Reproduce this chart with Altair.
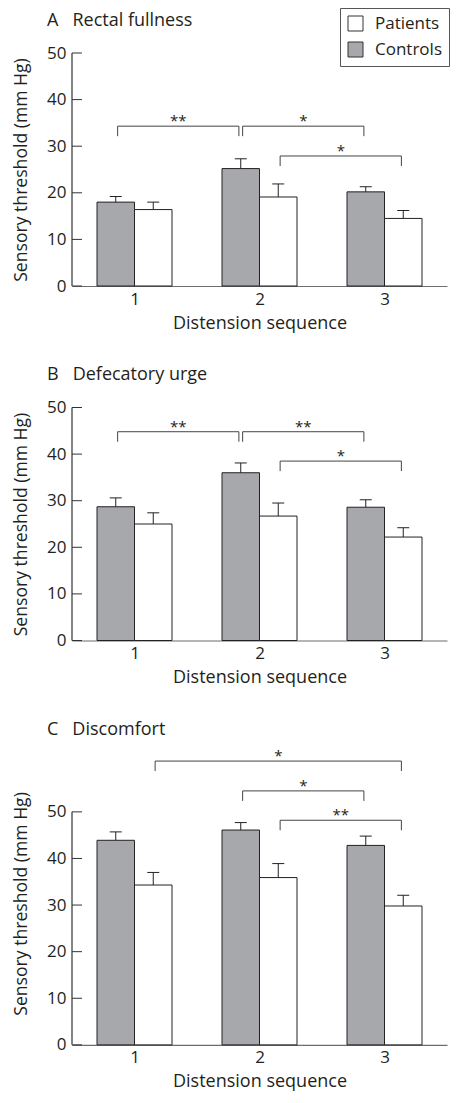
import altair as alt
import pandas as pd

# ---------------- data ----------------
sequence = [1, 2, 3]
groups = ["Controls", "Patients"]
y_ticks = [0, 10, 20, 30, 40, 50]

# Panel A: rectal fullness (mean, SEM)
a_controls = [18.0, 25.2, 20.2]
a_controls_sem = [1.2, 2.1, 1.1]
a_patients = [16.4, 19.1, 14.5]
a_patients_sem = [1.6, 2.8, 1.7]

# Panel B: defecatory urge
b_controls = [28.7, 36.0, 28.6]
b_controls_sem = [1.9, 2.1, 1.6]
b_patients = [25.0, 26.7, 22.2]
b_patients_sem = [2.4, 2.8, 2.0]

# Panel C: discomfort
c_controls = [43.9, 46.1, 42.8]
c_controls_sem = [1.8, 1.6, 2.0]
c_patients = [34.3, 35.9, 29.8]
c_patients_sem = [2.7, 3.0, 2.3]

# significance brackets: (from seq, from group) -> (to seq, to group), level, label
a_br_from_seq = [1, 2, 2]
a_br_from_grp = ["Controls", "Controls", "Patients"]
a_br_to_seq = [2, 3, 3]
a_br_to_grp = ["Controls", "Controls", "Patients"]
a_br_level = [34.3, 34.3, 27.9]
a_br_label = ["**", "*", "*"]

b_br_from_seq = [1, 2, 2]
b_br_from_grp = ["Controls", "Controls", "Patients"]
b_br_to_seq = [2, 3, 3]
b_br_to_grp = ["Controls", "Controls", "Patients"]
b_br_level = [44.8, 44.8, 38.5]
b_br_label = ["**", "**", "*"]

c_br_from_seq = [1, 2, 2]
c_br_from_grp = ["Patients", "Controls", "Patients"]
c_br_to_seq = [3, 3, 3]
c_br_to_grp = ["Patients", "Controls", "Patients"]
c_br_level = [60.9, 54.5, 48.2]
c_br_label = ["*", "*", "**"]

# ---------------- styling ----------------
FONT = "Open Sans"
TXT = "#231f20"
CTRL_FILL = "#a7a8ab"
BAR_W = 0.3       # bar width in sequence units
GAP = 0.015       # bracket end inset
PX_PER_UNIT = 233 / 50
SPACING = 121.5
PLOT_W = 375


def offset(g):
    return -BAR_W / 2 if g == "Controls" else BAR_W / 2


X_AXIS = alt.Axis(values=sequence, format="d", title="Distension sequence",
                  ticks=False, grid=False,
                  domainColor="#6d6d6d", domainWidth=1.2,
                  labelFont=FONT, labelFontSize=17, labelColor=TXT,
                  labelPadding=5, titleFont=FONT, titleFontSize=18,
                  titleFontWeight="normal", titleColor=TXT, titlePadding=7)
Y_AXIS = alt.Axis(values=y_ticks, title="Sensory threshold (mm Hg)",
                  domain=False, ticks=False, grid=False,
                  labelFont=FONT, labelFontSize=17, labelColor=TXT,
                  labelPadding=6, titleFont=FONT, titleFontSize=17.6,
                  titleFontWeight="normal", titleColor=TXT, titlePadding=16)


def panel(title, ctrl, ctrl_sem, pat, pat_sem, br, ymax, show_legend):
    rows = []
    for grp, vals, sems in (("Controls", ctrl, ctrl_sem), ("Patients", pat, pat_sem)):
        for s, v, e in zip(sequence, vals, sems):
            left = s - BAR_W if grp == "Controls" else s
            rows.append(dict(seq=s, group=grp, value=v, upper=v + e, zero=0.0,
                             left=left, right=left + BAR_W, center=left + BAR_W / 2))
    df = pd.DataFrame(rows)

    fs, fg, ts, tg, lv, lb = br
    brows = []
    for a, b, c, d, l, t in zip(fs, fg, ts, tg, lv, lb):
        x1 = a + offset(b) + GAP
        x2 = c + offset(d) - GAP
        brows.append(dict(x1=x1, x2=x2, mid=(x1 + x2) / 2, level=l, label=t))
    bdf = pd.DataFrame(brows)
    legs = pd.concat([bdf[["x1", "level"]].rename(columns={"x1": "xe"}),
                      bdf[["x2", "level"]].rename(columns={"x2": "xe"})])

    xscale = alt.Scale(domain=[0.5, 3.5], nice=False, zero=False)
    yscale = alt.Scale(domain=[0, ymax], nice=False, zero=True)

    def X(f):
        return alt.X(f, scale=xscale, axis=X_AXIS)

    def Y(f):
        return alt.Y(f, scale=yscale, axis=Y_AXIS)

    if show_legend:
        legend = alt.Legend(orient="none", legendX=268, legendY=-45, title=None,
                            symbolType="square", symbolSize=225,
                            symbolStrokeColor="#333", symbolStrokeWidth=1,
                            labelFont=FONT, labelFontSize=17, labelColor=TXT,
                            labelOffset=11, rowPadding=7, padding=7,
                            strokeColor="#555", fillColor="white")
    else:
        legend = None

    bars = alt.Chart(df).mark_rect(stroke="#222", strokeWidth=1).encode(
        x=X("left:Q"), x2="right:Q", y=Y("value:Q"), y2="zero:Q",
        fill=alt.Fill("group:N",
                      scale=alt.Scale(domain=["Patients", "Controls"], range=["white", CTRL_FILL]),
                      legend=legend),
    )

    err = alt.Chart(df).mark_rule(color="#222", strokeWidth=1).encode(
        x=X("center:Q"), y=Y("value:Q"), y2="upper:Q")
    caps = alt.Chart(df).mark_rule(color="#222", strokeWidth=1, xOffset=-6, x2Offset=6).encode(
        x=X("center:Q"), x2="center:Q", y=Y("upper:Q"))

    top = alt.Chart(bdf).mark_rule(color="#444", strokeWidth=1).encode(
        x=X("x1:Q"), x2="x2:Q", y=Y("level:Q"))
    leg = alt.Chart(legs).mark_rule(color="#444", strokeWidth=1, y2Offset=10).encode(
        x=X("xe:Q"), y=Y("level:Q"), y2="level:Q")
    stars = alt.Chart(bdf).mark_text(font=FONT, fontSize=15, color=TXT, baseline="alphabetic").encode(
        x=X("mid:Q"), y=Y("level:Q"), text="label:N")

    yline = alt.Chart(pd.DataFrame({"lo": [y_ticks[0]], "hi": [y_ticks[-1]]})).mark_rule(
        color="#333", strokeWidth=1.2).encode(
        x=alt.value(0), y=Y("lo:Q"), y2="hi:Q")
    yticks = alt.Chart(pd.DataFrame({"t": y_ticks})).mark_rule(color="#333", strokeWidth=1).encode(
        x=alt.value(0), x2=alt.value(10), y=Y("t:Q"))

    ttl = alt.Chart(pd.DataFrame({"t": [title]})).mark_text(
        font=FONT, fontSize=18, color=TXT, align="left", baseline="alphabetic").encode(
        x=alt.value(-25), y=alt.value(-27.5), text="t:N")

    height = PX_PER_UNIT * ymax
    return alt.layer(bars, err, caps, top, leg, stars, yline, yticks, ttl).properties(
        width=PLOT_W, height=height)


pa = panel("A\u00a0\u00a0\u00a0Rectal fullness", a_controls, a_controls_sem, a_patients, a_patients_sem,
           (a_br_from_seq, a_br_from_grp, a_br_to_seq, a_br_to_grp, a_br_level, a_br_label), 50, True)
pb = panel("B\u00a0\u00a0\u00a0Defecatory urge", b_controls, b_controls_sem, b_patients, b_patients_sem,
           (b_br_from_seq, b_br_from_grp, b_br_to_seq, b_br_to_grp, b_br_level, b_br_label), 50, False)
pc = panel("C\u00a0\u00a0\u00a0Discomfort", c_controls, c_controls_sem, c_patients, c_patients_sem,
           (c_br_from_seq, c_br_from_grp, c_br_to_seq, c_br_to_grp, c_br_level, c_br_label), 60.7, False)

chart = alt.vconcat(pa, pb, pc, spacing=SPACING, bounds="flush").resolve_scale(
    fill="independent").resolve_legend(fill="independent").properties(
    padding={"left": 4, "top": -1, "right": 0, "bottom": 0}
).configure(background="white", view=alt.ViewConfig(stroke="transparent"))

chart.save("out.html", embed_options={"renderer": "svg", "actions": False})
